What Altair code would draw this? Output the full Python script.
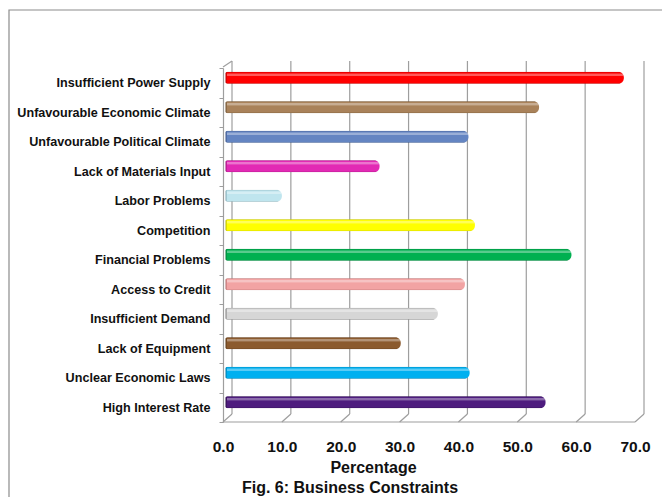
import altair as alt
import pandas as pd

categories = [
    "Insufficient Power Supply",
    "Unfavourable Economic Climate",
    "Unfavourable Political Climate",
    "Lack of Materials Input",
    "Labor Problems",
    "Competition",
    "Financial Problems",
    "Access to Credit",
    "Insufficient Demand",
    "Lack of Equipment",
    "Unclear Economic Laws",
    "High Interest Rate",
]
values = [68.1, 53.7, 41.7, 26.6, 10.0, 42.8, 59.2, 41.1, 36.5, 30.2, 41.9, 54.8]
colors = ["#FF0000", "#A9825A", "#6485C2", "#E22AB4", "#BFE5EE", "#FFFF00",
          "#00B050", "#F2A3A3", "#D6D6D6", "#8B5A2E", "#00B0F0", "#4E1C7E"]
strokes = ["#B00000", "#6E5030", "#3A5588", "#9A1478", "#7FA6B0", "#B5B500",
           "#007A37", "#B06A6A", "#7A7A7A", "#5A3818", "#0078A8", "#2A0C48"]
ticks = [0, 10, 20, 30, 40, 50, 60, 70]

df = pd.DataFrame({"cat": categories, "val": values, "col": colors, "stk": strokes})
tdf = pd.DataFrame({"t": ticks})
one = pd.DataFrame({"a": [0]})

W, H = 412, 354
xscale = alt.Scale(domain=[0, 70], nice=False)
yscale = alt.Scale(domain=categories, paddingInner=0, paddingOuter=0)

frame = alt.Chart(one).mark_rect(fill=None, stroke="#8C8C8C", strokeWidth=1.2).encode(
    x=alt.value(-214), x2=alt.value(470), y=alt.value(-58), y2=alt.value(520)
)

grid = alt.Chart(tdf).mark_rule(color="#9E9E9E", strokeWidth=1.2, xOffset=9).encode(
    x=alt.X("t:Q", scale=xscale), y=alt.value(-7), y2=alt.value(346)
)

diag = alt.Chart(tdf).mark_rule(color="#9E9E9E", strokeWidth=1.2, x2Offset=9).encode(
    x=alt.X("t:Q", scale=xscale), x2="t:Q", y=alt.value(354), y2=alt.value(346)
)

floor = alt.Chart(one).mark_rule(color="#9E9E9E", strokeWidth=1.2).encode(
    x=alt.value(0), x2=alt.value(W), y=alt.value(354)
)

walltop = alt.Chart(one).mark_rule(color="#9E9E9E", strokeWidth=1.2).encode(
    x=alt.value(0), x2=alt.value(9), y=alt.value(-1), y2=alt.value(-7)
)

bars = alt.Chart(df).mark_bar(
    height=12, cornerRadius=5.5, xOffset=3, yOffset=-5, strokeWidth=1
).encode(
    x=alt.X("val:Q", scale=xscale,
            axis=alt.Axis(values=ticks, format=".1f", domain=False, ticks=False, grid=False,
                          labelFlush=False,
                          labelFont="Liberation Sans", labelFontWeight="bold",
                          labelFontSize=15.5, labelColor="#111111", labelPadding=17,
                          title="Percentage", titleFont="Liberation Sans",
                          titleFontWeight="bold", titleFontSize=16, titleColor="#111111",
                          titleX=150, titleY=45, titleBaseline="middle", titleAlign="center")),
    y=alt.Y("cat:N", scale=yscale, sort=None,
            axis=alt.Axis(title=None, domain=True, domainColor="#9E9E9E", domainWidth=1.2,
                          ticks=True, tickBand="extent", tickSize=4, tickColor="#9E9E9E",
                          labelFont="Liberation Sans", labelFontWeight="bold",
                          labelFontSize=12.6, labelColor="#111111", labelPadding=9,
                          labelLimit=300, grid=False)),
    color=alt.Color("col:N", scale=None, legend=None),
    stroke=alt.Stroke("stk:N", scale=None, legend=None),
)

shine = alt.Chart(df).mark_bar(
    height=3, cornerRadius=1.5, xOffset=4, yOffset=-8, color="white", opacity=0.35
).encode(
    x=alt.X("val:Q", scale=xscale),
    y=alt.Y("cat:N", scale=yscale, sort=None),
)

caption = alt.Chart(one).mark_text(
    text="Fig. 6: Business Constraints", font="Liberation Sans", fontWeight="bold",
    fontSize=16, color="#111111", align="center", baseline="middle"
).encode(x=alt.value(127), y=alt.value(420))

chart = alt.layer(frame, grid, diag, floor, walltop, bars, shine, caption).properties(
    width=W, height=H,
    autosize=alt.AutoSizeParams(type="none"),
    padding={"left": 223, "top": 68, "right": 27, "bottom": 75},
    background="white",
).configure_view(stroke=None)

chart.save("out.html", embed_options={"renderer": "svg", "actions": False})
